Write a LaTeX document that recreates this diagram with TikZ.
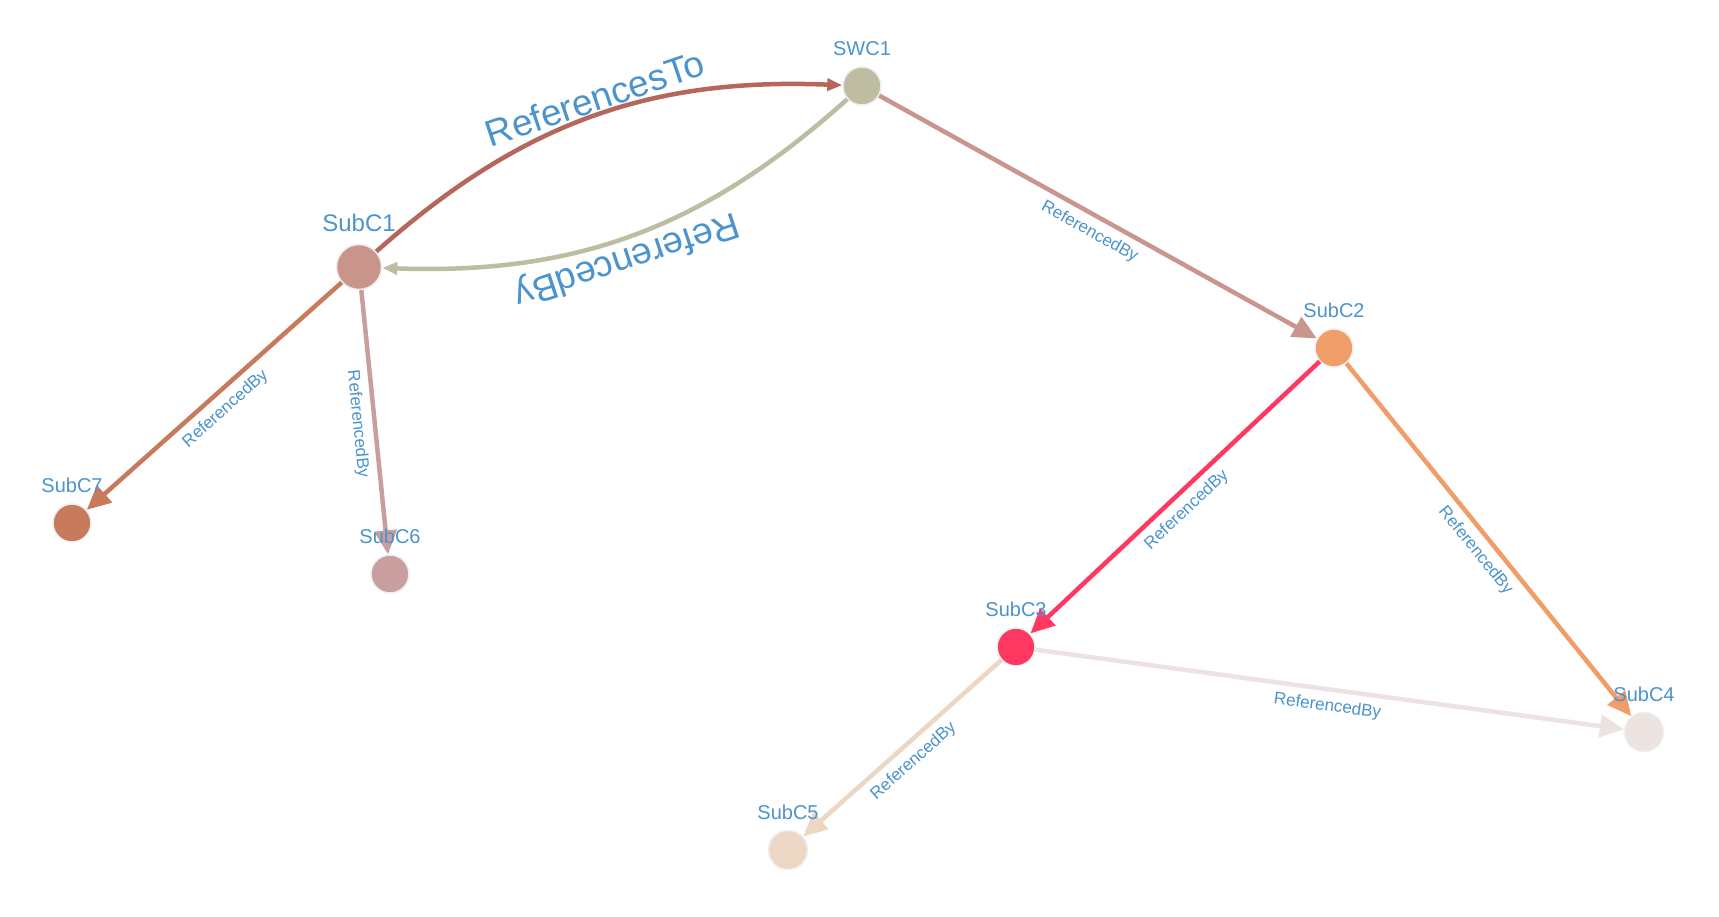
\documentclass[tikz,border=0pt]{standalone}
\usepackage{fontspec}
\setmainfont{Liberation Sans}
\usetikzlibrary{arrows.meta}
\definecolor{labc}{RGB}{75,148,205}
\definecolor{ringc}{RGB}{238,238,238}
\definecolor{cSWC}{RGB}{190,189,162}
\definecolor{cS1}{RGB}{201,149,138}
\definecolor{cS2}{RGB}{240,157,106}
\definecolor{cS3}{RGB}{255,56,98}
\definecolor{cS4}{RGB}{236,226,223}
\definecolor{cS5}{RGB}{236,214,196}
\definecolor{cS6}{RGB}{201,158,158}
\definecolor{cS7}{RGB}{200,123,92}
\definecolor{eRT}{RGB}{181,103,92}
\definecolor{eS2}{RGB}{201,149,142}
\begin{document}
\begin{tikzpicture}[x=1pt,y=1pt,
  nd/.style={circle, draw=ringc, line width=1.5pt, inner sep=0pt, minimum size=38pt},
  nlab/.style={text=labc, font=\fontsize{20}{24}\selectfont, inner sep=0pt, anchor=south},
  elab/.style={text=labc, font=\fontsize{17}{20}\selectfont, inner sep=7pt, sloped, below, midway},
  blab/.style={text=labc, font=\fontsize{37}{44}\selectfont, inner sep=1pt, sloped, above},
  edg/.style={line width=4.5pt, -{Triangle[length=24pt,width=22pt]}},
  cedg/.style={line width=4.5pt, -{Triangle[length=15pt,width=12pt]}}]
\fill[white] (0,0) rectangle (1719,-916);
\path[use as bounding box] (0,0) rectangle (1719,-916);
% nodes
\node[nd, fill=cSWC] (SWC1) at (862,-86) {};
\node[nd, fill=cS1, minimum size=45pt] (SubC1) at (359,-267) {};
\node[nd, fill=cS2] (SubC2) at (1334,-348) {};
\node[nd, fill=cS3] (SubC3) at (1016,-647) {};
\node[nd, fill=cS4, minimum size=39pt] (SubC4) at (1644,-732) {};
\node[nd, fill=cS5, minimum size=39pt] (SubC5) at (788,-850) {};
\node[nd, fill=cS6] (SubC6) at (390,-574) {};
\node[nd, fill=cS7] (SubC7) at (72,-523) {};
% edges
\draw[cedg, draw=eRT] (SubC1) to[bend left=22] node[blab, pos=0.52] {ReferencesTo} (SWC1);
\draw[cedg, draw=cSWC] (SWC1) to[bend left=22] node[blab, pos=0.53, allow upside down] {ReferencedBy} (SubC1);
\draw[edg, draw=eS2] (SWC1) -- node[elab] {ReferencedBy} (SubC2);
\draw[edg, draw=cS7] (SubC1) -- node[elab] {ReferencedBy} (SubC7);
\draw[edg, draw=cS6] (SubC1) -- node[elab] {ReferencedBy} (SubC6);
\draw[edg, draw=cS3] (SubC2) -- node[elab] {ReferencedBy} (SubC3);
\draw[edg, draw=cS2] (SubC2) -- node[elab] {ReferencedBy} (SubC4);
\draw[edg, draw=cS4] (SubC3) -- node[elab] {ReferencedBy} (SubC4);
\draw[edg, draw=cS5] (SubC3) -- node[elab] {ReferencedBy} (SubC5);
% node labels
\node[nlab] (lSWC1) at ([yshift=10pt]SWC1.north) {SWC1};
\node[nlab, font=\fontsize{24}{28}\selectfont] (lSubC1) at ([yshift=12pt]SubC1.north) {SubC1};
\node[nlab] (lSubC2) at ([yshift=10pt]SubC2.north) {SubC2};
\node[nlab] (lSubC3) at ([yshift=10pt]SubC3.north) {SubC3};
\node[nlab] (lSubC4) at ([yshift=10pt]SubC4.north) {SubC4};
\node[nlab] (lSubC5) at ([yshift=10pt]SubC5.north) {SubC5};
\node[nlab] (lSubC6) at ([yshift=10pt]SubC6.north) {SubC6};
\node[nlab] (lSubC7) at ([yshift=10pt]SubC7.north) {SubC7};
\end{tikzpicture}
\end{document}
